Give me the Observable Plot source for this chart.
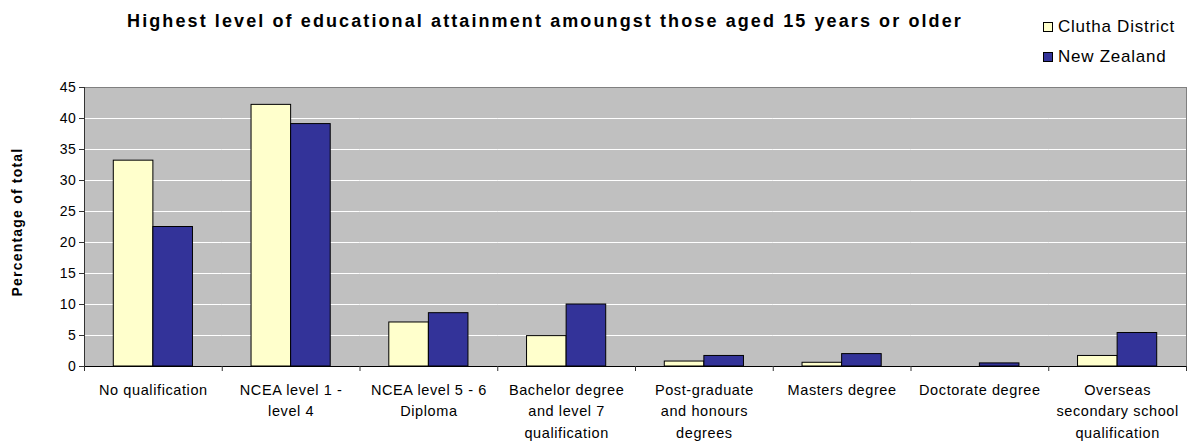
<!DOCTYPE html>
<html><head><meta charset="utf-8">
<script src="https://cdn.jsdelivr.net/npm/d3@7"></script>
<script src="https://cdn.jsdelivr.net/npm/@observablehq/plot@0.6"></script>
<style>
body{margin:0;background:#fff;font-family:"Liberation Sans",Arial,sans-serif;}
#wrap{position:relative;width:1190px;height:442px;overflow:hidden;}
#title{position:absolute;left:0;top:11px;width:1090px;text-align:center;font-weight:bold;font-size:18px;line-height:20px;letter-spacing:2.1px;color:#000;}
.leg{position:absolute;left:1043px;font-size:17px;line-height:18px;letter-spacing:0.75px;color:#000;white-space:nowrap;}
.sw{display:inline-block;width:8px;height:8px;border:1px solid #000;margin-right:5px;vertical-align:0px;}
#ylab{position:absolute;left:17px;top:222px;transform:translate(-50%,-50%) rotate(-90deg);font-weight:bold;font-size:14px;white-space:nowrap;letter-spacing:1.2px;}
#chart{position:absolute;left:0;top:0;}
</style>
</head><body>
<div id="wrap">
  <div id="chart"></div>
  <div id="title"></div>
  <div id="legend"></div>
  <div id="ylab"></div>
</div>
<script>
const titleText = "Highest level of educational attainment amoungst those aged 15 years or older";
const yLabel = "Percentage of total";
const categories = ["No qualification","NCEA level 1 - level 4","NCEA level 5 - 6 Diploma","Bachelor degree and level 7 qualification","Post-graduate and honours degrees","Masters degree","Doctorate degree","Overseas secondary school qualification"];
const tickLabels = ["No qualification","NCEA level 1 -\nlevel 4","NCEA level 5 - 6\nDiploma","Bachelor degree\nand level 7\nqualification","Post-graduate\nand honours\ndegrees","Masters degree","Doctorate degree","Overseas\nsecondary school\nqualification"];
const series = ["Clutha District","New Zealand"];
const colors = ["#FFFFCC","#333399"];
const clutha = [33.2, 42.2, 7.1, 4.9, 0.8, 0.6, 0, 1.7];
const newZealand = [22.5, 39.1, 8.6, 10.0, 1.7, 2.0, 0.5, 5.4];
const yTicks = [0,5,10,15,20,25,30,35,40,45];

document.getElementById("title").textContent = titleText;
document.getElementById("ylab").textContent = yLabel;
const legend = document.getElementById("legend");
series.forEach((s,i)=>{
  const d = document.createElement("div");
  d.className = "leg";
  d.style.top = (18 + i*30) + "px";
  const sw = document.createElement("span");
  sw.className = "sw"; sw.style.background = colors[i];
  d.appendChild(sw);
  d.appendChild(document.createTextNode(s));
  legend.appendChild(d);
});

const W = 1190, H = 442, ml = 84, mr = 4, mt = 87, mb = 76;
const step = (W - ml - mr) / categories.length;
const data = categories.flatMap((c,i)=>[
  {cat:c, series:series[0], value:clutha[i]},
  {cat:c, series:series[1], value:newZealand[i]}
]);

const chart = Plot.plot({
  width: W, height: H,
  marginLeft: ml, marginRight: mr, marginTop: mt, marginBottom: mb,
  style: {fontFamily: "Liberation Sans, Arial, sans-serif", fontSize: "14px", background: "transparent", color: "#000", letterSpacing: "0.6px"},
  fx: {domain: categories, padding: 0, round: false, label: null, axis: null},
  x: {domain: series, paddingInner: 0, paddingOuter: 0.74, round: false, axis: null},
  y: {domain: [0,45], axis: null},
  color: {domain: series, range: colors},
  marks: [
    Plot.frame({facet: "super", fill: "#c0c0c0"}),
    Plot.gridY({ticks: yTicks, stroke: "#ffffff", strokeOpacity: 1, strokeWidth: 1}),
    Plot.barY(data, {fx: "cat", x: "series", y: "value", fill: "series", stroke: "#000", strokeWidth: 1}),
    Plot.frame({facet: "super", stroke: "#808080"}),
    Plot.frame({facet: "super", anchor: "left", stroke: "#333"}),
    Plot.ruleY([0], {stroke: "#000"}),
    Plot.axisY({ticks: yTicks, tickSize: 5, tickPadding: 3, fontSize: 14, label: null, stroke: "#333"}),
    Plot.axisFx({anchor: "bottom", tickSize: 0, tickPadding: 13, label: null, fontSize: 14.5, lineHeight: 1.48,
      tickFormat: d => tickLabels[categories.indexOf(d)]}),
    Plot.axisFx({anchor: "bottom", text: null, tickSize: 5, dx: -step/2, label: null, stroke: "#333"}),
    Plot.axisFx({anchor: "bottom", text: null, tickSize: 5, dx: step/2, label: null, stroke: "#333",
      ticks: [categories[categories.length-1]]})
  ]
});
document.getElementById("chart").appendChild(chart);
</script>
</body></html>
